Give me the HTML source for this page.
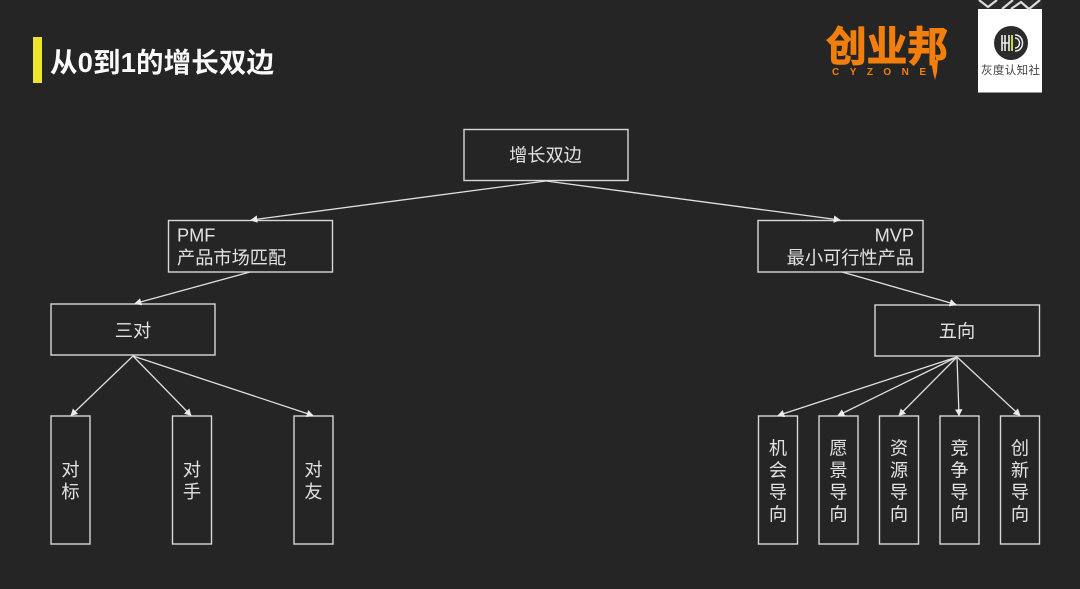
<!DOCTYPE html>
<html>
<head>
<meta charset="utf-8">
<style>
html,body{margin:0;padding:0;background:#252525;}
svg{display:block;}
text{font-family:"Liberation Sans","Noto Sans CJK SC",sans-serif;fill:#e2e2e2;}
</style>
</head>
<body>
<svg width="1080" height="589" viewBox="0 0 1080 589" xmlns="http://www.w3.org/2000/svg">
<defs>
<marker id="a" viewBox="0 0 10 10" refX="9" refY="5" markerWidth="7" markerHeight="7.500" markerUnits="userSpaceOnUse" orient="auto" preserveAspectRatio="none"><path d="M0 0L10 5L0 10Z" fill="#ececec"/></marker>
</defs>
<rect width="1080" height="589" fill="#252525"/>
<rect x="33" y="37" width="9" height="46" fill="#efe32c"/>
<text x="50" y="72" font-size="27.500" font-weight="700" style="fill:#fafafa" textLength="224" lengthAdjust="spacing">从0到1的增长双边</text>

<text x="826" y="61" font-size="41" font-weight="700" style="fill:#f27f0c;stroke:#f27f0c;stroke-width:1.000" textLength="122" lengthAdjust="spacingAndGlyphs">创业邦</text>
<text x="832" y="75" font-size="10" font-weight="700" style="fill:#f27f0c" textLength="94" lengthAdjust="spacing">CYZONE</text>
<path d="M931 60h7l-1 12l-2 8l-2-8z" fill="#f27f0c"/>

<rect x="978" y="9" width="64" height="83.500" fill="#fff"/>
<path d="M978 0h64v9h-64z" fill="#2a2a2a"/>
<path d="M979 0l9 7l9-7M1002 9l11-9M1011 9l10-7l8 7l11-9" fill="none" stroke="#ddd" stroke-width="2.200"/>
<circle cx="1011" cy="43" r="17" fill="#2b2b2b"/>
<path d="M1002 35v16M1005 35v16M1002 43h7M1009 35v16" stroke="#eee" stroke-width="1.600" fill="none"/>
<path d="M1012 35v16" stroke="#c8d63c" stroke-width="2"/>
<path d="M1015 35c10 0 10 16 0 16M1015 38c6 0 6 10 0 10" stroke="#eee" stroke-width="1.500" fill="none"/>
<text x="981" y="74" font-size="11.500" style="fill:#444" textLength="59" lengthAdjust="spacing">灰度认知社</text>

<g fill="none" stroke="#d8d8d8" stroke-width="1.400">
<rect x="464" y="129.500" width="164" height="51"/>
<rect x="168.500" y="220.500" width="164" height="51.500"/>
<rect x="51" y="304" width="164" height="51"/>
<rect x="758" y="220.500" width="165" height="51.500"/>
<rect x="875" y="305" width="164.500" height="51"/>
<rect x="51" y="416" width="39" height="128"/>
<rect x="172.500" y="416" width="39" height="128"/>
<rect x="294" y="416" width="39" height="128"/>
<rect x="758.500" y="416" width="39" height="128"/>
<rect x="819" y="416" width="39" height="128"/>
<rect x="879.500" y="416" width="39" height="128"/>
<rect x="940" y="416" width="39" height="128"/>
<rect x="1000.500" y="416" width="39" height="128"/>
</g>

<g fill="none" stroke="#e0e0e0" stroke-width="1.300" marker-end="url(#a)">
<line x1="546" y1="181" x2="251" y2="220"/>
<line x1="546" y1="181" x2="840" y2="220"/>
<line x1="250" y1="272" x2="135" y2="303.500"/>
<line x1="842" y1="272" x2="956" y2="304.500"/>
<line x1="133" y1="356" x2="71" y2="415.500"/>
<line x1="133" y1="356" x2="191" y2="415.500"/>
<line x1="133" y1="356" x2="313" y2="415.500"/>
<line x1="957" y1="357" x2="778" y2="415.500"/>
<line x1="957" y1="357" x2="838" y2="415.500"/>
<line x1="957" y1="357" x2="899" y2="415.500"/>
<line x1="957" y1="357" x2="959" y2="415.500"/>
<line x1="957" y1="357" x2="1020" y2="415.500"/>
</g>

<g font-size="18.200">
<text x="545.500" y="161.500" text-anchor="middle">增长双边</text>
<text x="177" y="241.500">PMF</text>
<text x="177" y="264">产品市场匹配</text>
<text x="133" y="337" text-anchor="middle">三对</text>
<text x="914" y="241.500" text-anchor="end">MVP</text>
<text x="914" y="264" text-anchor="end">最小可行性产品</text>
<text x="957" y="337.500" text-anchor="middle">五向</text>
</g>
<g font-size="18.200" text-anchor="middle">
<text x="70.500" y="476">对</text><text x="70.500" y="498">标</text>
<text x="192" y="476">对</text><text x="192" y="498">手</text>
<text x="313.500" y="476">对</text><text x="313.500" y="498">友</text>
<text x="778" y="454.500">机</text><text x="778" y="476.500">会</text><text x="778" y="498.500">导</text><text x="778" y="520.500">向</text>
<text x="838.500" y="454.500">愿</text><text x="838.500" y="476.500">景</text><text x="838.500" y="498.500">导</text><text x="838.500" y="520.500">向</text>
<text x="899" y="454.500">资</text><text x="899" y="476.500">源</text><text x="899" y="498.500">导</text><text x="899" y="520.500">向</text>
<text x="959.500" y="454.500">竞</text><text x="959.500" y="476.500">争</text><text x="959.500" y="498.500">导</text><text x="959.500" y="520.500">向</text>
<text x="1020" y="454.500">创</text><text x="1020" y="476.500">新</text><text x="1020" y="498.500">导</text><text x="1020" y="520.500">向</text>
</g>
</svg>
</body>
</html>
